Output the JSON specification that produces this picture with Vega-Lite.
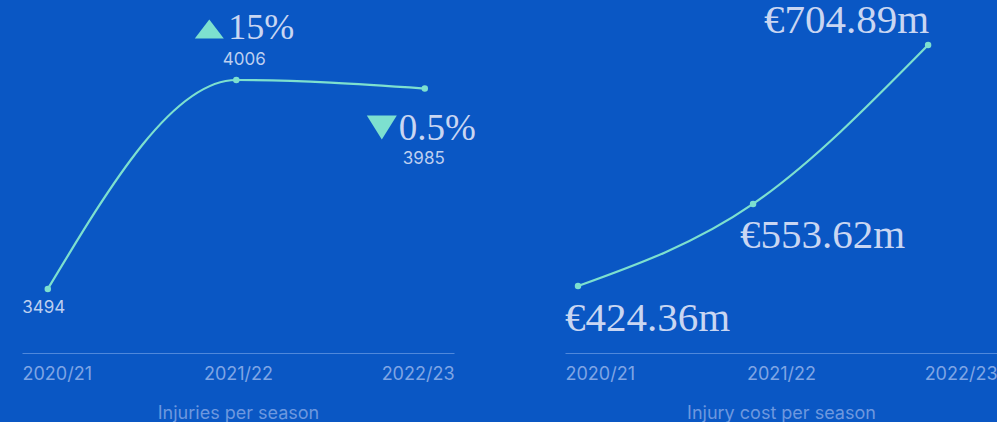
{
  "$schema": "https://vega.github.io/schema/vega-lite/v6.json",
  "background": "#0A57C4",
  "padding": {"left": 22, "top": 0, "right": 0, "bottom": 0},
  "spacing": 111,
  "bounds": "flush",
  "config": {"view": {"stroke": null}},
  "hconcat": [
    {
      "width": 432,
      "height": 353,
      "data": {"values": [
        {"season": "2020/21", "injuries": 3494, "change": ""},
        {"season": "2021/22", "injuries": 4006, "change": "15%"},
        {"season": "2022/23", "injuries": 3985, "change": "0.5%"}
      ]},
      "resolve": {"scale": {"x": "independent"}},
      "layer": [
        {
          "mark": {"type": "text", "text": ""},
          "encoding": {
            "x": {"field": "season", "type": "ordinal", "scale": {"type": "point", "padding": 0},
              "axis": {"orient": "bottom", "domainColor": "#4F88DB", "domainWidth": 1, "ticks": false, "grid": false,
                "labelAngle": 0, "labelFlush": true, "labelFont": "Inter", "labelFontSize": 18, "labelColor": "#7FA5E4",
                "labelPadding": 26, "labelBaseline": "alphabetic",
                "title": "Injuries per season", "titleFont": "Inter", "titleFontSize": 18, "titleFontWeight": "normal",
                "titleColor": "#6D98DF", "titleBaseline": "alphabetic", "titlePadding": 35}}
          }
        },
        {
          "encoding": {
            "x": {"field": "season", "type": "ordinal", "scale": {"type": "point", "padding": 0.1459, "align": 0.469}, "axis": null},
            "y": {"field": "injuries", "type": "quantitative", "scale": {"domain": [3337, 4202], "zero": false, "nice": false}, "axis": null}
          },
          "layer": [
            {"mark": {"type": "line", "interpolate": "monotone", "color": "#7DE0CF", "strokeWidth": 2.2}},
            {"mark": {"type": "circle", "size": 42, "color": "#7DE0CF", "opacity": 1}},
            {"transform": [{"filter": "datum.season == '2020/21'"}],
             "mark": {"type": "text", "font": "Inter", "fontSize": 17, "color": "#BDCFF0", "align": "center", "baseline": "alphabetic", "dx": -4, "dy": 24},
             "encoding": {"text": {"field": "injuries", "type": "quantitative", "format": "d"}}},
            {"transform": [{"filter": "datum.season == '2021/22'"}],
             "mark": {"type": "text", "font": "Inter", "fontSize": 17, "color": "#BDCFF0", "align": "center", "baseline": "alphabetic", "dx": 8, "dy": -15},
             "encoding": {"text": {"field": "injuries", "type": "quantitative", "format": "d"}}},
            {"transform": [{"filter": "datum.season == '2022/23'"}],
             "mark": {"type": "text", "font": "Inter", "fontSize": 17, "color": "#BDCFF0", "align": "center", "baseline": "alphabetic", "dx": -1, "dy": 75},
             "encoding": {"text": {"field": "injuries", "type": "quantitative", "format": "d"}}},
            {"transform": [{"filter": "datum.season == '2021/22'"}],
             "mark": {"type": "text", "font": "Liberation Serif", "fontSize": 36, "color": "#C9D6F2", "align": "left", "baseline": "alphabetic", "dx": -8, "dy": -41},
             "encoding": {"text": {"field": "change", "type": "nominal"}}},
            {"transform": [{"filter": "datum.season == '2022/23'"}],
             "mark": {"type": "text", "font": "Liberation Serif", "fontSize": 37, "color": "#C9D6F2", "align": "left", "baseline": "alphabetic", "dx": -26, "dy": 51},
             "encoding": {"text": {"field": "change", "type": "nominal"}}},
            {"transform": [{"filter": "datum.season == '2021/22'"}],
             "mark": {"type": "point", "shape": "M0,-0.66L1,0.66L-1,0.66Z", "size": 841, "filled": true, "color": "#7DE0CF", "opacity": 1},
             "encoding": {"xOffset": {"value": -27}, "yOffset": {"value": -51}}},
            {"transform": [{"filter": "datum.season == '2022/23'"}],
             "mark": {"type": "point", "shape": "M-1,-0.8L1,-0.8L0,0.8Z", "size": 900, "filled": true, "color": "#7DE0CF", "opacity": 1},
             "encoding": {"xOffset": {"value": -43}, "yOffset": {"value": 39}}}
          ]
        }
      ]
    },
    {
      "width": 432,
      "height": 353,
      "data": {"values": [
        {"season": "2020/21", "cost": 424.36, "label": "€424.36m"},
        {"season": "2021/22", "cost": 553.62, "label": "€553.62m"},
        {"season": "2022/23", "cost": 704.89, "label": "€704.89m"}
      ]},
      "resolve": {"scale": {"x": "independent"}},
      "layer": [
        {
          "mark": {"type": "text", "text": ""},
          "encoding": {
            "x": {"field": "season", "type": "ordinal", "scale": {"type": "point", "padding": 0},
              "axis": {"orient": "bottom", "domainColor": "#4F88DB", "domainWidth": 1, "ticks": false, "grid": false,
                "labelAngle": 0, "labelFlush": true, "labelFont": "Inter", "labelFontSize": 18, "labelColor": "#7FA5E4",
                "labelPadding": 26, "labelBaseline": "alphabetic",
                "title": "Injury cost per season", "titleFont": "Inter", "titleFontSize": 18, "titleFontWeight": "normal",
                "titleColor": "#6D98DF", "titleBaseline": "alphabetic", "titlePadding": 35}}
          }
        },
        {
          "encoding": {
            "x": {"field": "season", "type": "ordinal", "scale": {"type": "point", "padding": 0.234, "align": 0.159}, "axis": null},
            "y": {"field": "cost", "type": "quantitative", "scale": {"type": "pow", "exponent": 3, "domain": [66.6, 737.7], "zero": false, "nice": false}, "axis": null}
          },
          "layer": [
            {"mark": {"type": "line", "interpolate": "monotone", "color": "#7DE0CF", "strokeWidth": 2.2}},
            {"mark": {"type": "circle", "size": 42, "color": "#7DE0CF", "opacity": 1}},
            {"transform": [{"filter": "datum.season != '2022/23'"}],
             "mark": {"type": "text", "font": "Liberation Serif", "fontSize": 41, "color": "#C9D6F2", "align": "left", "baseline": "alphabetic", "dx": -13, "dy": 44.5},
             "encoding": {"text": {"field": "label", "type": "nominal"}}},
            {"transform": [{"filter": "datum.season == '2022/23'"}],
             "mark": {"type": "text", "font": "Liberation Serif", "fontSize": 41, "color": "#C9D6F2", "align": "right", "baseline": "alphabetic", "dx": 1, "dy": -12},
             "encoding": {"text": {"field": "label", "type": "nominal"}}}
          ]
        }
      ]
    }
  ]
}
